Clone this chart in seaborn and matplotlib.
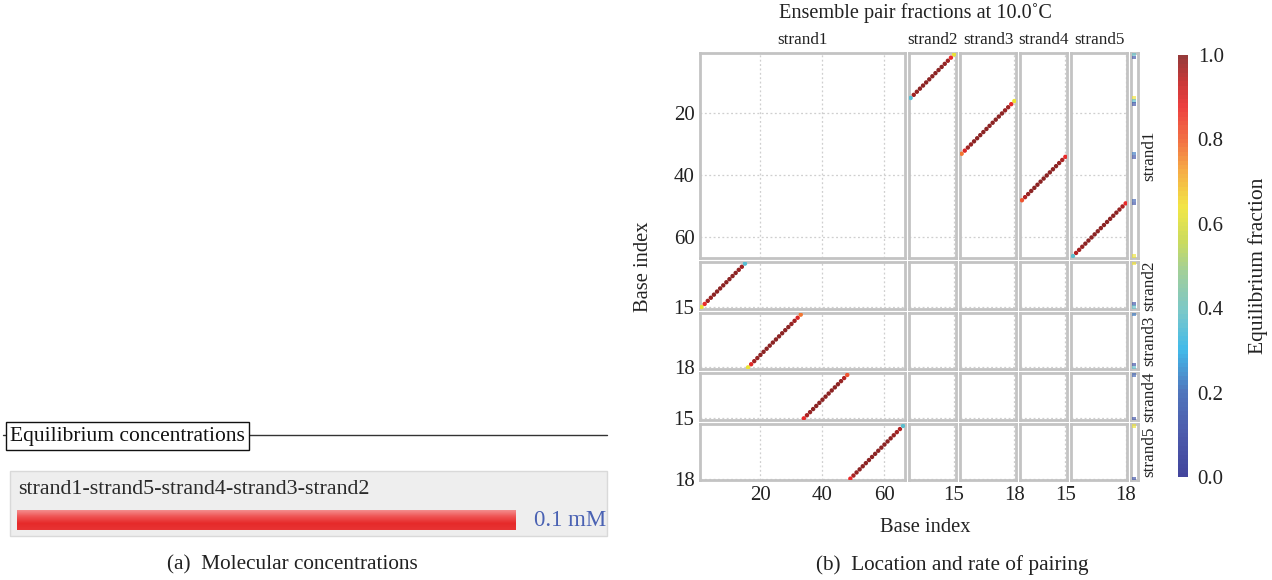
import numpy as np
import pandas as pd
import matplotlib
matplotlib.use("Agg")
import matplotlib.pyplot as plt
import seaborn as sns
from matplotlib.colors import LinearSegmentedColormap, Normalize
from matplotlib.cm import ScalarMappable
from matplotlib.patches import Rectangle
from matplotlib.lines import Line2D

# ---------------------------------------------------------------- data
strands = ["strand1", "strand2", "strand3", "strand4", "strand5"]
lengths = [66, 15, 18, 15, 18]

# first strand1 base of each duplex segment (partner pairs antiparallel)
s1_start = {"strand2": 1, "strand3": 16, "strand4": 34, "strand5": 49}

# pair fractions along strand1 for each partner strand
frac_s2 = [0.62, 0.88, 0.97, 0.98, 0.99, 0.99, 0.99, 0.99, 0.99, 0.99,
           0.99, 0.99, 0.98, 0.97, 0.36]
frac_s3 = [0.63, 0.89, 0.97, 0.98, 0.99, 0.99, 0.99, 0.99, 0.99, 0.99,
           0.99, 0.99, 0.99, 0.99, 0.98, 0.97, 0.90, 0.78]
frac_s4 = [0.88, 0.96, 0.98, 0.99, 0.99, 0.99, 0.99, 0.99, 0.99, 0.99,
           0.99, 0.99, 0.98, 0.95, 0.82]
frac_s5 = [0.88, 0.96, 0.98, 0.99, 0.99, 0.99, 0.99, 0.99, 0.99, 0.99,
           0.99, 0.99, 0.99, 0.99, 0.98, 0.97, 0.95, 0.37]
fractions = {"strand2": frac_s2, "strand3": frac_s3,
             "strand4": frac_s4, "strand5": frac_s5}

temperature_c = 10.0
complex_names = ["strand1-strand5-strand4-strand3-strand2"]
concentrations_mM = [0.1]

# ---------------------------------------------------------------- tables
rows = []
for partner, fr in fractions.items():
    L = lengths[strands.index(partner)]
    for k, f in enumerate(fr):
        b1, b2 = s1_start[partner] + k, L - k
        rows.append(dict(row="strand1", col=partner, x=b2, y=b1, frac=f))
        rows.append(dict(row=partner, col="strand1", x=b1, y=b2, frac=f))
pairs = pd.DataFrame(rows)

# unpaired fraction for every base
unp_rows = []
for s, L in zip(strands, lengths):
    paired = np.zeros(L)
    sub = pairs[pairs["row"] == s]
    for _, r in sub.iterrows():
        paired[int(r["y"]) - 1] += r["frac"]
    for b in range(L):
        unp_rows.append(dict(row=s, x=0.5, y=b + 1, frac=1.0 - paired[b]))
unpaired = pd.DataFrame(unp_rows)
unpaired = unpaired[unpaired["frac"] >= 0.1]

# ---------------------------------------------------------------- style
sns.set_style("white")
plt.rcParams["font.family"] = ["Liberation Serif", "DejaVu Serif"]

cmap = LinearSegmentedColormap.from_list(
    "eqfrac",
    [(0.00, "#2e3192"), (0.10, "#3949a3"), (0.20, "#3e68b6"),
     (0.30, "#2db3e8"), (0.39, "#6cc2c4"), (0.48, "#94c993"),
     (0.56, "#c6d84c"), (0.64, "#f1e431"), (0.73, "#f5a132"),
     (0.80, "#f16330"), (0.88, "#ec2b2b"), (0.94, "#c42222"),
     (1.00, "#8c2424")], N=96)
norm = Normalize(0, 1)

W, H = 1272, 580
fig = plt.figure(figsize=(W / 100, H / 100), dpi=100)


def rect(x0, y0, x1, y1):
    return [x0 / W, 1 - y1 / H, (x1 - x0) / W, (y1 - y0) / H]


scale = 3.1
gap = 4.5
left0, top0 = 700, 53
col_x = []
x = left0
for L in lengths:
    col_x.append(x)
    x += L * scale + gap
unp_x0 = x - gap + 3.5
row_y = []
y = top0
for L in lengths:
    row_y.append(y)
    y += L * scale + gap

frame_color = "#c3c3c3"
grid_kw = dict(color="#cfcfcf", linestyle=(0, (1.5, 2.0)), linewidth=0.9)
text_color = "#222222"


def style_frame(ax):
    for sp in ax.spines.values():
        sp.set_color(frame_color)
        sp.set_linewidth(2.0)
    ax.tick_params(length=0, labelsize=15, pad=4, colors=text_color)


def ticks_for(L):
    return [20, 40, 60] if L > 30 else [L]


for ri, (rs, RL) in enumerate(zip(strands, lengths)):
    for ci, (cs, CL) in enumerate(zip(strands, lengths)):
        ax = fig.add_axes(rect(col_x[ci], row_y[ri],
                               col_x[ci] + CL * scale, row_y[ri] + RL * scale))
        sub = pairs[(pairs["row"] == rs) & (pairs["col"] == cs)]
        if len(sub):
            sns.scatterplot(data=sub, x="x", y="y", hue="frac", palette=cmap,
                            hue_norm=norm, marker="o", s=10, linewidth=0,
                            legend=False, ax=ax, zorder=3)
        ax.set_xlim(0.5, CL + 0.5)
        ax.set_ylim(RL + 0.5, 0.5)
        ax.set_xticks(ticks_for(CL))
        ax.set_yticks(ticks_for(RL))
        ax.grid(True, **grid_kw)
        ax.set_xlabel("")
        ax.set_ylabel("")
        style_frame(ax)
        ax.tick_params(labelbottom=(ri == len(strands) - 1),
                       labelleft=(ci == 0))
    # unpaired column
    uax = fig.add_axes(rect(unp_x0, row_y[ri], unp_x0 + 7, row_y[ri] + RL * scale))
    sub = unpaired[unpaired["row"] == rs]
    if len(sub):
        sns.scatterplot(data=sub, x="x", y="y", hue="frac", palette=cmap,
                        hue_norm=norm, marker="s", s=6, linewidth=0,
                        legend=False, ax=uax, zorder=3, alpha=0.65)
    uax.set_xlim(0, 1)
    uax.set_ylim(RL + 0.5, 0.5)
    uax.set_xticks([])
    uax.set_yticks([])
    uax.set_xlabel("")
    uax.set_ylabel("")
    style_frame(uax)
    fig.text((unp_x0 + 19) / W, 1 - (row_y[ri] + RL * scale / 2) / H, rs,
             rotation=90, ha="center", va="center", fontsize=12.3,
             color=text_color)

# column headings
for ci, (cs, CL) in enumerate(zip(strands, lengths)):
    fig.text((col_x[ci] + CL * scale / 2) / W, 1 - 40 / H, cs,
             ha="center", va="center", fontsize=12.3, color=text_color)

fig.text(915 / W, 1 - 13 / H,
         f"Ensemble pair fractions at {temperature_c:.1f}\u02daC",
         ha="center", va="center", fontsize=14.6, color=text_color)
fig.text(925 / W, 1 - 527 / H, "Base index", ha="center", va="center",
         fontsize=14.8, color=text_color)
fig.text(644 / W, 1 - 267 / H, "Base index", ha="center", va="center",
         rotation=90, fontsize=14.8, color=text_color)

# colorbar
cax = fig.add_axes(rect(1178, 55, 1188, 477))
cb = fig.colorbar(ScalarMappable(norm=norm, cmap=cmap), cax=cax)
cb.outline.set_visible(False)
cb.set_ticks([0.0, 0.2, 0.4, 0.6, 0.8, 1.0])
cb.ax.tick_params(length=0, labelsize=15, pad=7, colors=text_color)
cb.solids.set_alpha(0.9)
fig.text(1258 / W, 1 - 266 / H, "Equilibrium fraction", rotation=90,
         ha="center", va="center", fontsize=15.5, color=text_color)

# ---------------------------------------------------------------- panel (a)
fig.lines.append(Line2D([3 / W, 607 / W], [1 - 435 / H, 1 - 435 / H],
                        transform=fig.transFigure, color="#333333", lw=1.0,
                        zorder=1))
fig.text(10 / W, 1 - 436 / H, "Equilibrium concentrations", ha="left",
         va="center", fontsize=15.5, color="#111111", zorder=5,
         bbox=dict(boxstyle="square,pad=0.2", fc="white", ec="#111111", lw=1.0))

fig.patches.append(Rectangle((10 / W, 1 - 536 / H), 597 / W, 65 / H,
                             transform=fig.transFigure, facecolor="#eeeeee",
                             edgecolor="#d9d9d9", lw=1.0, zorder=-5))
fig.text(18 / W, 1 - 490 / H, complex_names[0], ha="left", va="center",
         fontsize=15.8, color="#2a2a2a")

bax = fig.add_axes(rect(17, 510, 516, 530))
bax.set_zorder(2)
sns.barplot(x=concentrations_mM, y=complex_names, orient="h", color="#e83030",
            width=1.0, ax=bax, saturation=1)
bax.axis("off")
bar = bax.patches[0]
bar.set_edgecolor("#e99a9a")
bar.set_linewidth(0.8)
grad = LinearSegmentedColormap.from_list(
    "bar", ["#f48d8d", "#ef5252", "#e62a2a", "#e83434"])
img = bax.imshow(np.linspace(0, 1, 64).reshape(-1, 1), cmap=grad,
                 extent=[0, concentrations_mM[0], 0.5, -0.5], aspect="auto",
                 zorder=3)
img.set_clip_path(bar)
bax.set_xlim(0, max(concentrations_mM))
bax.set_ylim(0.5, -0.5)
fig.text(534 / W, 1 - 520 / H, f"{concentrations_mM[0]:g} mM", ha="left",
         va="center", fontsize=16.5, color="#4a62b3")

# captions
fig.text(292 / W, 1 - 565 / H, "(a)  Molecular concentrations", ha="center",
         va="center", fontsize=15.3, color=text_color)
fig.text(952 / W, 1 - 565 / H, "(b)  Location and rate of pairing",
         ha="center", va="center", fontsize=15.3, color=text_color)

fig.savefig("out.png", dpi=100, facecolor="white")
